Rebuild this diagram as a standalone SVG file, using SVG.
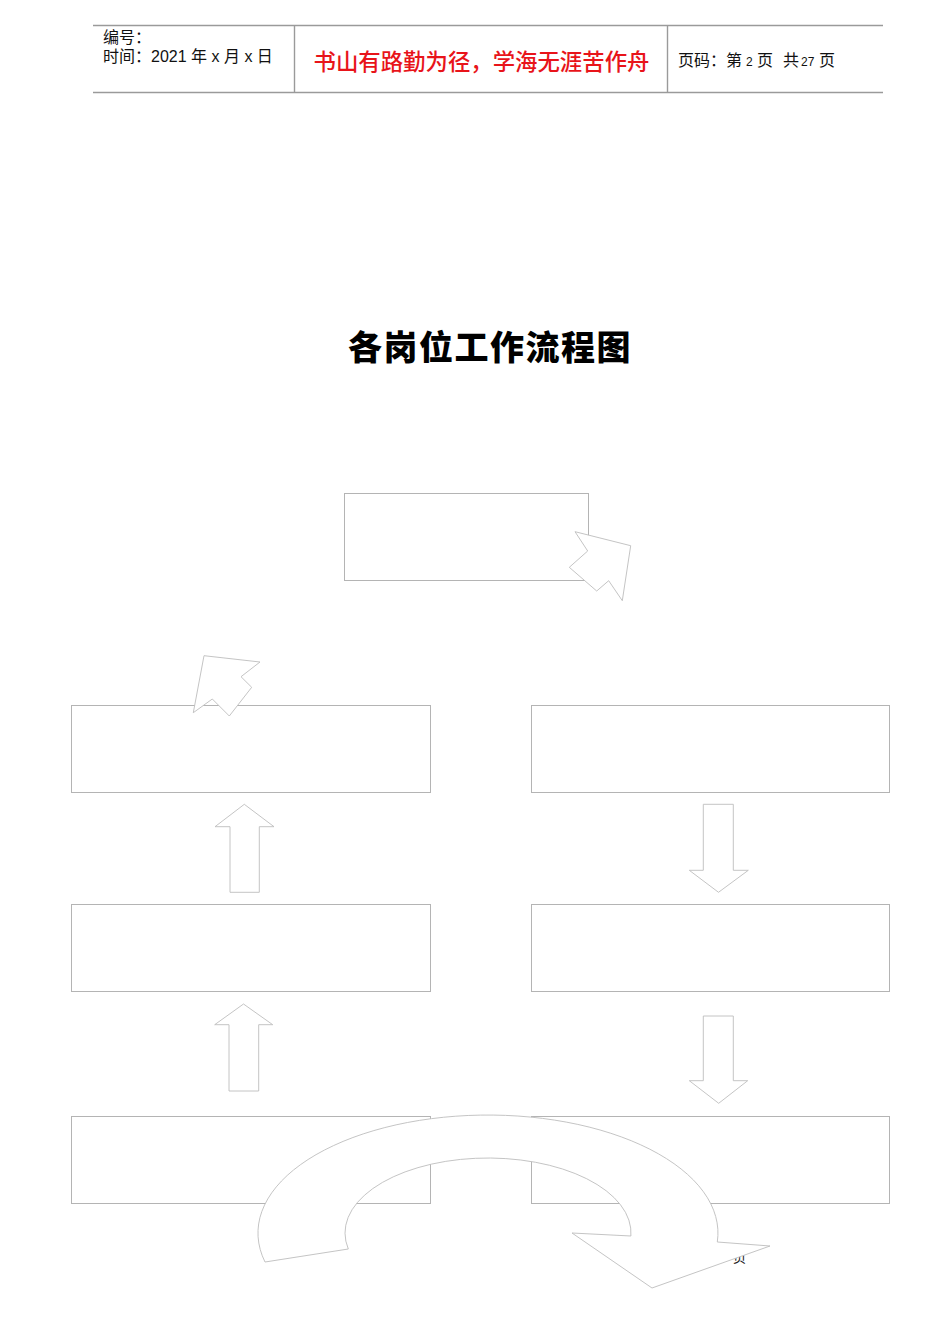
<svg xmlns="http://www.w3.org/2000/svg" width="950" height="1344" viewBox="0 0 950 1344">
<style>
.hl{stroke:#9a9a9a;stroke-width:1.4;fill:none}
.ht{font-family:"Liberation Sans","Noto Sans CJK SC",sans-serif;font-size:16px;fill:#111}
.red{font-family:"Noto Sans CJK SC",sans-serif;font-size:22.4px;fill:#e8141a;font-weight:500}
.title{font-family:"Noto Sans CJK SC",sans-serif;font-size:34px;font-weight:800;fill:#000;letter-spacing:1.5px}
.box{fill:#fff;stroke:#b4b4b4;stroke-width:1}
.arr{fill:#fff;stroke:#bdbdbd;stroke-width:0.9;stroke-linejoin:miter}
.frag{font-family:"Noto Sans CJK SC",sans-serif;font-size:13px;fill:#222}
</style>
<rect width="950" height="1344" fill="#fff"/>
<g id="header">
<line class="hl" x1="93" y1="25.5" x2="883" y2="25.5"/>
<line class="hl" x1="93" y1="92.5" x2="883" y2="92.5"/>
<line class="hl" x1="294.5" y1="25" x2="294.5" y2="93"/>
<line class="hl" x1="667.5" y1="25" x2="667.5" y2="93"/>
<text class="ht" x="103" y="43">编号：</text>
<text class="ht" x="103" y="62">时间：2021 年 x 月 x 日</text>
<text class="red" x="481.5" y="70" text-anchor="middle">书山有路勤为径，学海无涯苦作舟</text>
<text class="ht" x="678" y="66">页码：第<tspan x="746" font-size="12">2</tspan><tspan x="757">页</tspan><tspan x="783">共</tspan><tspan x="801" font-size="12">27</tspan><tspan x="819">页</tspan></text>
</g>
<g id="title">
<text class="title" x="348" y="360">各岗位工作流程图</text>
</g>
<g id="node-top"><rect class="box" x="344.5" y="493.5" width="244" height="87"/></g>
<g id="node-left1"><rect class="box" x="71.5" y="705.5" width="359" height="87"/></g>
<g id="node-right1"><rect class="box" x="531.5" y="705.5" width="358" height="87"/></g>
<g id="node-left2"><rect class="box" x="71.5" y="904.5" width="359" height="87"/></g>
<g id="node-right2"><rect class="box" x="531.5" y="904.5" width="358" height="87"/></g>
<g id="node-left3"><rect class="box" x="71.5" y="1116.5" width="359" height="87"/></g>
<g id="node-right3"><rect class="box" x="531.5" y="1116.5" width="358" height="87"/></g>
<text class="frag" x="733" y="1262">页</text>
<g id="connectors">
<polygon class="arr" points="575,531.7 630.7,545.7 622.3,600.7 608.7,580.7 596.7,591 569.3,567.3 587.7,551"/>
<polygon class="arr" points="204,655.7 260,662 241,676.7 251.7,687.3 229.3,716 212.3,699 193.3,712.7"/>
<polygon class="arr" points="244.3,804.3 274,826.7 259.3,826.7 259.3,892.3 230,892.3 230,826.7 215,826.7"/>
<polygon class="arr" points="243.5,1004 272.7,1024.7 258.7,1024.7 258.7,1091 229,1091 229,1024.7 214.7,1024.7"/>
<polygon class="arr" points="703.3,804.3 733.3,804.3 733.3,870.3 748.3,870.3 718.5,892.3 689.3,870.3 703.3,870.3"/>
<polygon class="arr" points="703.3,1016 733.3,1016 733.3,1080.7 747.7,1080.7 718.7,1103.3 689.3,1080.7 703.3,1080.7"/>
<path class="arr" d="M265,1262 A230 118 0 1 1 717.3,1242 L770,1246 L652,1288 L572,1233 L630.9,1236 A143 75 0 1 0 348.3,1249 Z"/>
</g>
</svg>
